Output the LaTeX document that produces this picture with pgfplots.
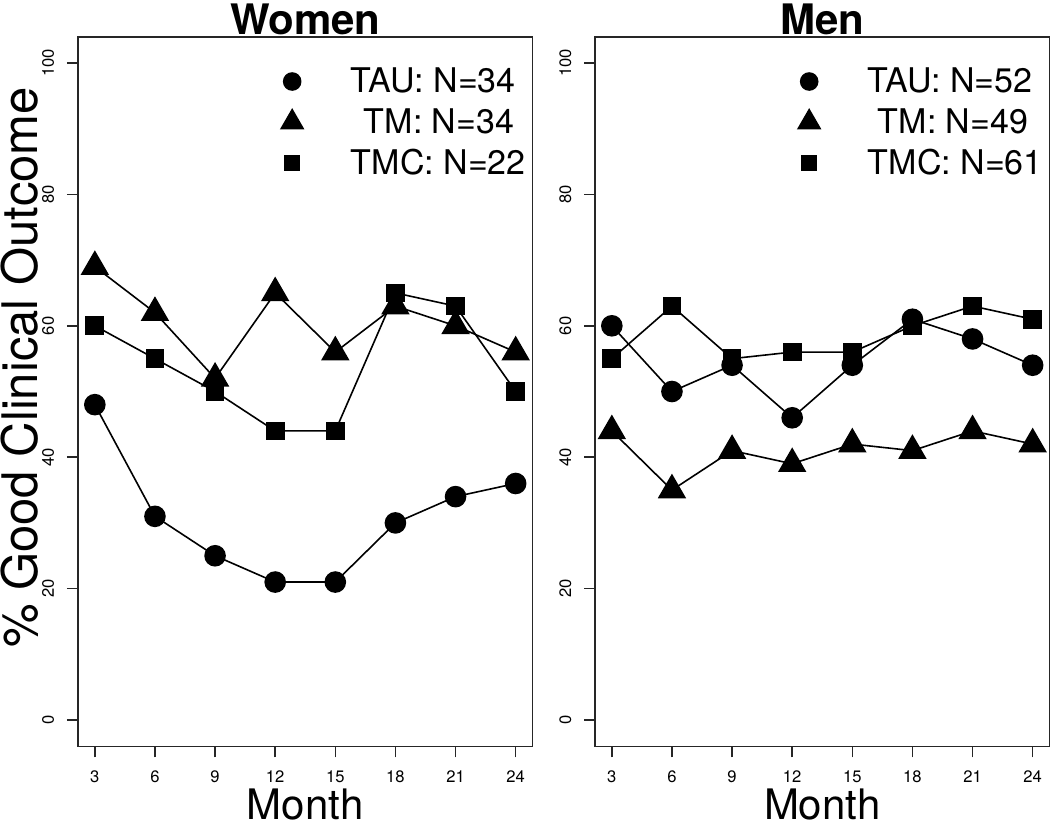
\documentclass[border=0pt]{standalone}
\usepackage{fontspec}
\setmainfont{TeX Gyre Heros}
\usepackage{pgfplots}
\pgfplotsset{compat=1.18}

\begin{document}
\begin{tikzpicture}
\pgfplotsset{
  panel/.style={
    scale only axis, width=227.25pt, height=354.8pt,
    xmin=2.16, xmax=24.84, ymin=-4, ymax=104,
    xtick={3,6,9,12,15,18,21,24}, ytick={0,20,40,60,80,100},
    tick align=outside, major tick length=5.5pt,
    axis line style={line width=0.8pt, black!85},
    every tick/.style={black!85, line width=0.8pt},
    xtick pos=left, ytick pos=left,
    /pgf/number format/assume math mode=true,
    tick label style={font=\fontsize{8.3}{10}\selectfont},
    xticklabel style={anchor=base, inner sep=0pt, yshift=-12.6pt},
    yticklabel style={rotate=90, anchor=base, inner sep=0pt, yshift=6.5pt},
    clip=false,
    legend cell align=left,
    legend style={draw=none, fill=none, at={(rel axis cs:0.4158,0.957)}, anchor=north west,
      inner sep=0pt, row sep=6.5pt, column sep=0pt,
      nodes={inner sep=0pt}, cells={anchor=west},
      font=\fontsize{17}{20}\selectfont},
    legend image code/.code={\path (-12pt,0pt) (29pt,0pt);
      \draw[##1, mark options={scale=0.85}] plot coordinates {(0pt,0pt)};},
  },
  ln/.style={black, line width=0.8pt, mark options={solid, fill=black, draw=black}},
}
% ---------------- Women ----------------
\begin{axis}[panel, name=W]
\addplot[ln, mark=*, mark size=5pt] coordinates {(3,48) (6,31) (9,25) (12,21) (15,21) (18,30) (21,34) (24,36)};
\addlegendentry{TAU: N=34}
\addplot[ln, mark=triangle*, mark size=7.4pt] coordinates {(3,69) (6,62) (9,52) (12,65) (15,56) (18,63) (21,60) (24,56)};
\addlegendentry{\hspace{6.5pt}TM: N=34}
\addplot[ln, mark=square*, mark size=4.3pt] coordinates {(3,60) (6,55) (9,50) (12,44) (15,44) (18,65) (21,63) (24,50)};
\addlegendentry{TMC: N=22}
\node[font=\bfseries\fontsize{21}{24}\selectfont, anchor=base, inner sep=0pt] at ([yshift=1.35pt]rel axis cs:0.5,1) {Women};
\node[font=\fontsize{21}{24}\selectfont, anchor=base, inner sep=0pt] at ([yshift=-36.6pt]rel axis cs:0.5,0) {Month};
\node[rotate=90, anchor=base, inner sep=0pt, font=\fontsize{24.5}{28}\selectfont] at ([xshift=-20pt]rel axis cs:0,0.534) {\% Good Clinical Outcome};
\end{axis}
% ---------------- Men ----------------
\begin{axis}[panel, name=M, at={(258.5pt,0pt)}]
\addplot[ln, mark=*, mark size=5pt] coordinates {(3,60) (6,50) (9,54) (12,46) (15,54) (18,61) (21,58) (24,54)};
\addlegendentry{TAU: N=52}
\addplot[ln, mark=triangle*, mark size=7.4pt] coordinates {(3,44) (6,35) (9,41) (12,39) (15,42) (18,41) (21,44) (24,42)};
\addlegendentry{\hspace{5pt}TM: N=49}
\addplot[ln, mark=square*, mark size=4.3pt] coordinates {(3,55) (6,63) (9,55) (12,56) (15,56) (18,60) (21,63) (24,61)};
\addlegendentry{TMC: N=61}
\node[font=\bfseries\fontsize{21}{24}\selectfont, anchor=base, inner sep=0pt] at ([yshift=1.35pt]rel axis cs:0.5,1) {Men};
\node[font=\fontsize{21}{24}\selectfont, anchor=base, inner sep=0pt] at ([yshift=-36.6pt]rel axis cs:0.5,0) {Month};
\end{axis}
\pgfresetboundingbox
\path[use as bounding box] ([xshift=-39pt,yshift=-40.35pt]W.south west) rectangle ([xshift=486pt,yshift=373.15pt]W.south west);
\end{tikzpicture}
\end{document}
